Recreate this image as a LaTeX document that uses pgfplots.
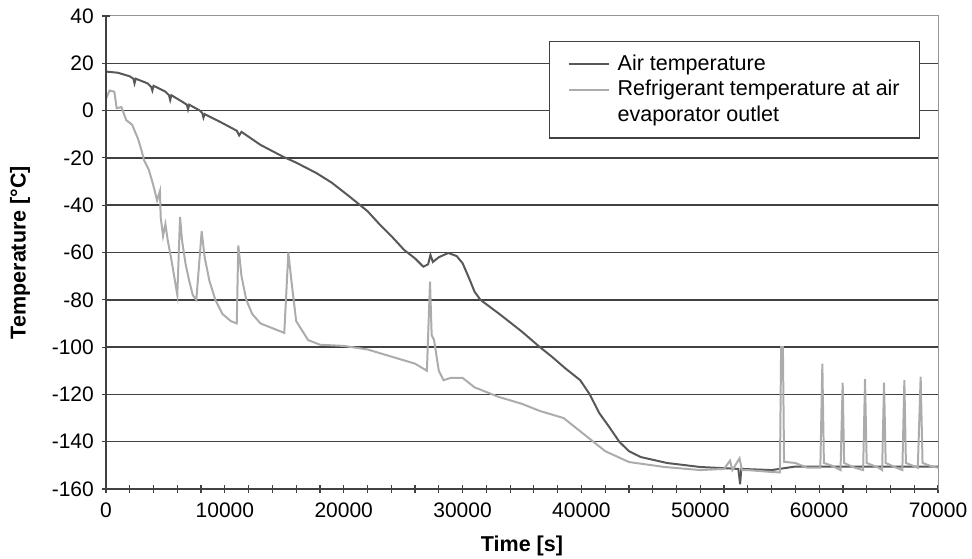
\documentclass[border=0pt]{standalone}
\usepackage{fontspec}
\setmainfont{Liberation Sans}
\usepackage{pgfplots}
\pgfplotsset{compat=1.18}
\definecolor{airc}{RGB}{88,88,88}
\definecolor{refc}{RGB}{172,172,172}
\definecolor{gridc}{RGB}{65,65,65}
\definecolor{framec}{RGB}{150,150,150}
\begin{document}
\fontsize{21bp}{26bp}\selectfont
\begin{tikzpicture}
\begin{axis}[
  scale only axis, width=832bp, height=473bp,
  xmin=0, xmax=70000, ymin=-160, ymax=40,
  clip mode=individual,
  axis line style={draw=framec, line width=1pt},
  xtick={0,10000,...,70000}, minor x tick num=4,
  ytick={-160,-140,...,20}, extra y ticks={40}, extra y tick style={grid=none},
  xtick pos=bottom, ytick pos=left,
  tick align=center, major tick length=8bp, minor tick length=8bp,
  tick style={gridc, line width=1.2pt},
  ymajorgrids, grid style={gridc, line width=1.6pt},
  scaled x ticks=false,
  /pgf/number format/assume math mode=true,
  tick label style={font=\fontsize{21bp}{26bp}\selectfont},
  x tick label style={/pgf/number format/1000 sep={}, yshift=-3bp},
  y tick label style={xshift=-1bp},
  every axis y label/.style={at={(axis description cs:-0.1034,0.5)}, rotate=90, anchor=center, font=\fontsize{21.5bp}{26bp}\selectfont\bfseries},
  every axis x label/.style={at={(axis description cs:0.5,-0.1205)}, anchor=center, font=\fontsize{21.5bp}{26bp}\selectfont\bfseries},
  xlabel={Time [s]}, ylabel={Temperature [°C]},
  legend style={at={(0.5325,0.947)}, anchor=north west, draw=gridc, line width=1.3pt, fill=white,
    cells={anchor=west}, inner xsep=18bp, inner ysep=11bp, row sep=3bp,
    font=\fontsize{21.5bp}{26bp}\selectfont},
  legend image code/.code={\draw[#1, line width=2pt] (0bp,0bp) -- (40bp,0bp); \path (46bp,0bp);},
]
\addplot[airc, line width=2pt] coordinates {
(0,16.5)(1000,16)(2000,14.5)(2300,13.5)(2400,11.5)(2500,13.5)(3500,11.5)(3800,10)(3900,8.5)(4000,10.5)
(5000,8)(5300,6.5)(5400,4.5)(5500,6.5)(6500,3.5)(6800,2.5)(6900,0.5)(7000,2.5)(7900,0)(8100,-1)(8200,-3)(8300,-1.5)
(9500,-4.5)(11000,-8.5)(11200,-10.5)(11400,-9)(13000,-14.5)(14900,-19.5)(16000,-22)(17700,-26.4)(19000,-30.5)
(20500,-36.4)(22000,-42.5)(23000,-48)(24000,-53)(25100,-59)(26000,-62.5)(26700,-66)(27100,-65)(27300,-61)(27500,-64)
(28000,-62)(28800,-60.2)(29500,-61.5)(30000,-64.5)(30600,-71.5)(31000,-76.5)(31500,-80)(32300,-83)(33100,-86)
(35000,-93.5)(36500,-100)(37500,-104)(38600,-108.8)(39900,-114)(40700,-120)(41500,-127.9)(42300,-133.5)(43200,-140.1)
(44000,-144)(45000,-146.5)(47200,-149)(50000,-150.7)(53200,-151.5)(53350,-158)(53450,-151.5)(56000,-152)(58000,-150.5)(70000,-150.5)
};
\addlegendentry{Air temperature}
\addplot[refc, line width=2pt] coordinates {
(0,5)(300,8.5)(700,8)(900,1)(1300,1.5)(1700,-4)(2200,-6)(2700,-12)(3000,-17)(3200,-21)(3600,-25)(3950,-31)
(4300,-38)(4540,-34)(4600,-45)(4800,-53)(5000,-48)(5200,-55)(5500,-63)(5800,-72)(6000,-78)(6230,-45)(6400,-55)
(6700,-65)(7000,-72)(7300,-78)(7600,-80)(8050,-51)(8300,-62)(8700,-72)(9200,-80)(9800,-86)(10500,-89)(11000,-90)
(11130,-57)(11400,-70)(11800,-80)(12300,-86)(13000,-90)(14000,-92)(15000,-94)(15340,-60)(15600,-72)(16000,-89)
(16500,-93)(17000,-97)(18000,-99)(20000,-99.5)(22000,-101)(24000,-104)(26000,-107)(27000,-110)(27260,-72.3)
(27400,-95)(27600,-97)(28000,-110)(28400,-114)(29000,-113)(30000,-113)(31000,-117)(32000,-119)(33000,-121)
(35000,-124)(36500,-127)(38500,-130)(39500,-134)(40500,-138)(41000,-140)(42000,-144)(44000,-148.6)(47000,-150.7)
(50000,-152)(52000,-151.5)(52500,-148)(52700,-152)(53300,-147)(53500,-152)(54000,-152)(56000,-152.8)(56700,-153)
(56800,-100)(56950,-100)(57050,-148.5)(58000,-149)(59000,-151)(60100,-151)(60270,-107)(60400,-149)(61000,-150)
(61800,-152)(61980,-115)(62100,-149)(63000,-151)(63700,-152)(63860,-113.5)(64000,-149)(65000,-151)(65300,-152)
(65460,-115)(65600,-149)(66500,-151)(67000,-152)(67170,-114)(67300,-149)(68300,-151)(68540,-112.5)(68700,-149)
(69500,-150.5)(70000,-151)
};
\addlegendentry{Refrigerant temperature at air}
\addlegendimage{empty legend}
\addlegendentry{evaporator outlet}
\draw[gridc, line width=1.6pt] (rel axis cs:0,1) -- (rel axis cs:0,0) -- (rel axis cs:1,0);
\coordinate (sw) at (rel axis cs:0,0);
\coordinate (ne) at (rel axis cs:1,1);
\end{axis}
\pgfresetboundingbox
\path[use as bounding box] ([shift={(-106bp,-70bp)}]sw) rectangle ([shift={(34bp,16bp)}]ne);
\end{tikzpicture}
\end{document}
